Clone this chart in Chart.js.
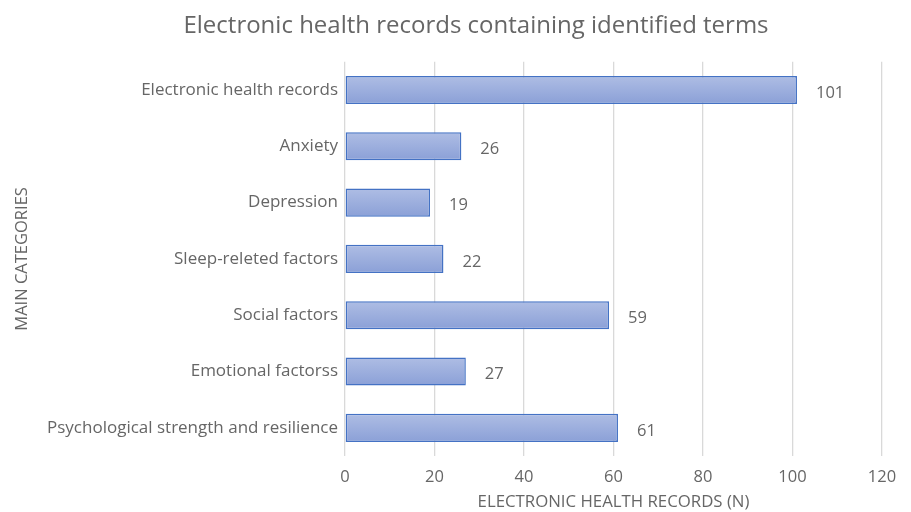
<!DOCTYPE html>
<html>
<head>
<meta charset="utf-8">
<script src="https://cdn.jsdelivr.net/npm/chart.js@4/dist/chart.umd.min.js"></script>
<style>
  html, body { margin: 0; padding: 0; background: #fff; }
  #wrap { width: 911px; height: 512px; }
</style>
</head>
<body>
<div id="wrap"><canvas id="chart"></canvas></div>
<script>
// chart data
var categories = ["Electronic health records", "Anxiety", "Depression", "Sleep-releted factors",
    "Social factors", "Emotional factorss", "Psychological strength and resilience"];
var records = [101, 26, 19, 22, 59, 27, 61];
var xTicks = [0, 20, 40, 60, 80, 100, 120];

var textGray = "#666666";
var fontName = "'Open Sans', Lato, sans-serif";

// little plugin for the value labels right of each bar
var valueLabels = {
    id: "valueLabels",
    afterDatasetsDraw: function (chart) {
        var ctx = chart.ctx;
        var meta = chart.getDatasetMeta(0);
        ctx.save();
        ctx.fillStyle = textGray;
        ctx.font = "16.5px " + fontName;
        ctx.textBaseline = "middle";
        ctx.textAlign = "left";
        meta.data.forEach(function (bar, i) {
            ctx.fillText(records[i], bar.x + 19, bar.y + 3);
        });
        ctx.restore();
    }
};

var canvas = document.getElementById("chart");
var myChart = new Chart(canvas, {
    type: "bar",
    data: {
        labels: categories,
        datasets: [{
            data: records,
            backgroundColor: function (context) {
                var c = context.chart;
                var yScale = c.scales.y;
                if (!c.chartArea || !yScale) return "#9eb0df";
                var cy = yScale.getPixelForValue(context.dataIndex);
                if (!isFinite(cy)) return "#9eb0df";
                var h = 14;
                var g = c.ctx.createLinearGradient(0, cy - h, 0, cy + h);
                g.addColorStop(0, "#aebde4");
                g.addColorStop(1, "#8ba0d7");
                return g;
            },
            borderColor: "#4472c4",
            borderWidth: 1.5,
            borderSkipped: false,
            categoryPercentage: 1,
            barPercentage: 0.5
        }]
    },
    options: {
        indexAxis: "y",
        responsive: true,
        maintainAspectRatio: false,
        animation: false,
        // left padding pushes the title centre to the right like in excel
        layout: { padding: { left: 41, right: 0, top: 0, bottom: 0 } },
        plugins: {
            legend: { display: false },
            tooltip: { enabled: false },
            title: {
                display: true,
                text: "Electronic health records containing identified terms",
                color: textGray,
                font: { family: fontName, size: 24, weight: "normal" },
                padding: { top: 12, bottom: 21 }
            }
        },
        scales: {
            x: {
                min: 0,
                max: 120,
                afterBuildTicks: function (scale) {
                    scale.ticks = xTicks.map(function (v) { return { value: v }; });
                },
                grid: { color: "#d9d9d9", lineWidth: 1.3, drawTicks: false },
                border: { display: false },
                ticks: {
                    color: textGray,
                    font: { family: fontName, size: 16.5 },
                    padding: 11
                },
                title: {
                    display: true,
                    text: "ELECTRONIC HEALTH RECORDS (N)",
                    color: textGray,
                    font: { family: fontName, size: 16.8 },
                    padding: { top: 4, bottom: 0 }
                },
                afterFit: function (scale) {
                    scale.height = 56;
                    scale.paddingRight = 29;
                }
            },
            y: {
                grid: { display: false, drawTicks: false },
                border: { display: false },
                ticks: {
                    color: textGray,
                    font: { family: fontName, size: 17 },
                    padding: 7
                },
                title: {
                    display: true,
                    text: "MAIN CATEGORIES",
                    color: textGray,
                    font: { family: fontName, size: 16.5 },
                    padding: { top: -29, bottom: 0 }
                },
                afterFit: function (scale) { scale.width = 304; }
            }
        }
    },
    plugins: [valueLabels]
});
</script>
</body>
</html>
